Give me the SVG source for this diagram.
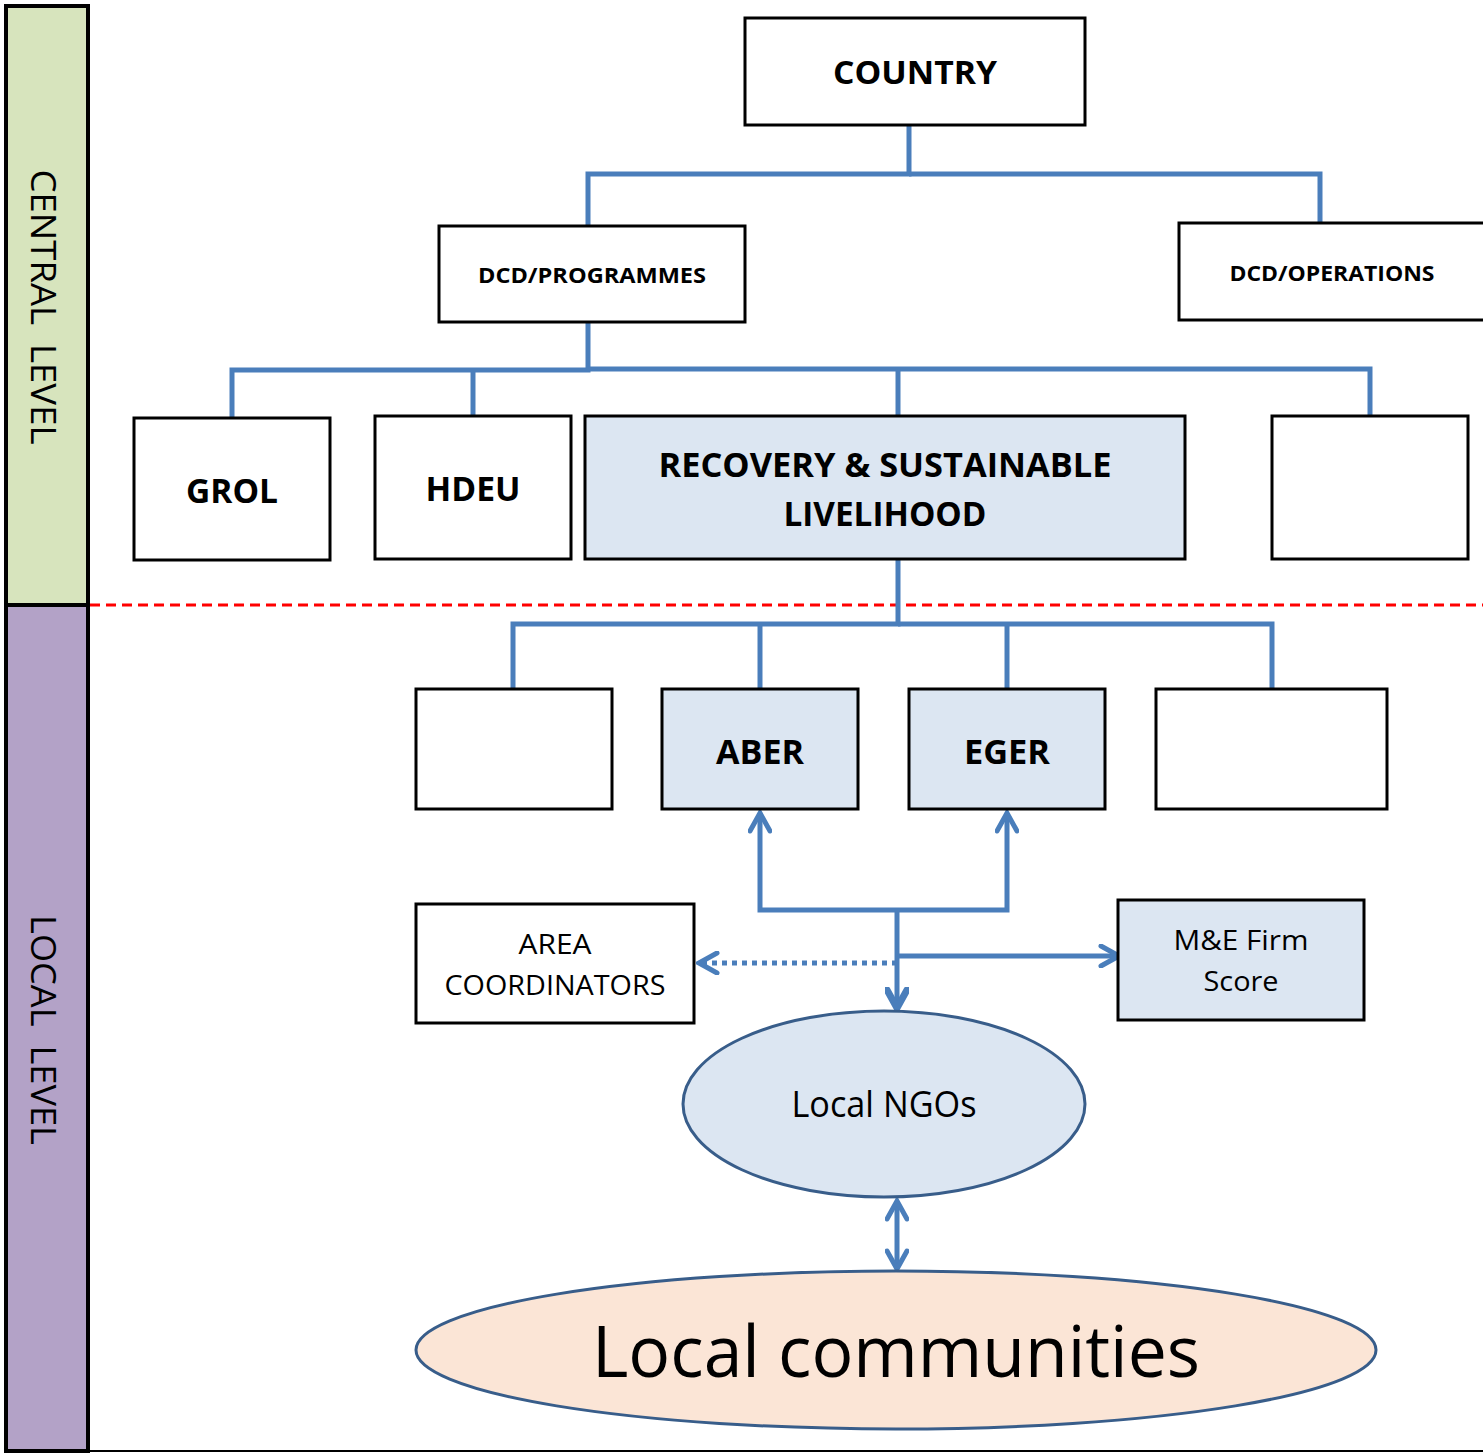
<svg xmlns="http://www.w3.org/2000/svg" width="1483" height="1455" viewBox="0 0 1483 1455">
<style>
.box{fill:#ffffff;stroke:#000000;stroke-width:3}
.fill{fill:#dce6f2;stroke:#000000;stroke-width:3}
.conn{fill:none;stroke:#4a7ebb;stroke-width:5;stroke-linejoin:miter}
.t{font-family:"Open Sans","Noto Sans","Liberation Sans",sans-serif;fill:#000000;text-anchor:middle}
.b{font-weight:bold}
.side{font-family:"Open Sans","Noto Sans","Liberation Sans",sans-serif;font-size:34px;fill:#000000;text-anchor:middle;white-space:pre}
</style>
<defs>
<marker id="arr" viewBox="0 0 24 24" refX="21" refY="12" markerWidth="24" markerHeight="24" markerUnits="userSpaceOnUse" orient="auto-start-reverse">
<path d="M3,2 L21,12 L3,22" fill="none" stroke="#4a7ebb" stroke-width="5" stroke-linecap="round" stroke-linejoin="miter"/>
</marker>
<marker id="arrB" viewBox="0 0 24 24" refX="21" refY="12" markerWidth="24" markerHeight="24" markerUnits="userSpaceOnUse" orient="auto-start-reverse">
<path d="M3,2 L21,12 L3,22" fill="none" stroke="#4a7ebb" stroke-width="7" stroke-linecap="round" stroke-linejoin="miter"/>
</marker>
</defs>
<rect width="1483" height="1455" fill="#ffffff"/>

<g id="levels">
<rect x="6" y="6" width="82" height="599" fill="#d7e4bd" stroke="#000000" stroke-width="4"/>
<rect x="6" y="605" width="82" height="846" fill="#b3a2c7" stroke="#000000" stroke-width="4"/>
<line x1="88" y1="1451" x2="1483" y2="1451" stroke="#000000" stroke-width="2"/>
<text class="side" xml:space="preserve" transform="translate(31,307) rotate(90)" textLength="275" lengthAdjust="spacingAndGlyphs">CENTRAL  LEVEL</text>
<text class="side" xml:space="preserve" transform="translate(31,1030) rotate(90)" textLength="230" lengthAdjust="spacingAndGlyphs">LOCAL  LEVEL</text>
<line x1="90" y1="605" x2="1483" y2="605" stroke="#ff0000" stroke-width="3" stroke-dasharray="10,6"/>
</g>

<g id="connectors">
<polyline class="conn" points="909,125 909,174 588,174 588,226"/>
<polyline class="conn" points="909,174 1320,174 1320,223"/>
<polyline class="conn" points="588,322 588,370 232,370 232,418"/>
<polyline class="conn" points="473,370 473,416"/>
<polyline class="conn" points="588,369 1370,369 1370,416"/>
<polyline class="conn" points="898,369 898,416"/>
<polyline class="conn" points="898,559 898,624 513,624 513,689"/>
<polyline class="conn" points="760,624 760,689"/>
<polyline class="conn" points="898,624 1272,624 1272,689"/>
<polyline class="conn" points="1007,624 1007,689"/>
<polyline class="conn" points="760,813 760,910 1007,910 1007,813" marker-start="url(#arr)" marker-end="url(#arr)"/>
<line class="conn" x1="897" y1="910" x2="897" y2="1008" stroke-width="6" marker-end="url(#arrB)"/>
<line class="conn" x1="897" y1="963" x2="699" y2="963" stroke-dasharray="5,5" marker-end="url(#arr)"/>
<line class="conn" x1="897" y1="956" x2="1119" y2="956" marker-end="url(#arr)"/>
<line class="conn" x1="897" y1="1201" x2="897" y2="1269" marker-start="url(#arr)" marker-end="url(#arr)"/>
</g>

<g id="country">
<rect class="box" x="745" y="18" width="340" height="107"/>
<text class="t b" x="915" y="84" font-size="32" textLength="164" lengthAdjust="spacingAndGlyphs">COUNTRY</text>
</g>
<g id="dcd-programmes">
<rect class="box" x="439" y="226" width="306" height="96"/>
<text class="t b" x="592" y="283" font-size="22" textLength="228" lengthAdjust="spacingAndGlyphs">DCD/PROGRAMMES</text>
</g>
<g id="dcd-operations">
<rect class="box" x="1179" y="223" width="320" height="97"/>
<text class="t b" x="1332" y="281" font-size="22" textLength="205" lengthAdjust="spacingAndGlyphs">DCD/OPERATIONS</text>
</g>
<g id="grol">
<rect class="box" x="134" y="418" width="196" height="142"/>
<text class="t b" x="232" y="503" font-size="34" textLength="92" lengthAdjust="spacingAndGlyphs">GROL</text>
</g>
<g id="hdeu">
<rect class="box" x="375" y="416" width="196" height="143"/>
<text class="t b" x="473" y="501" font-size="34" textLength="95" lengthAdjust="spacingAndGlyphs">HDEU</text>
</g>
<g id="rsl">
<rect class="fill" x="585" y="416" width="600" height="143"/>
<text class="t b" x="885" y="477" font-size="34" textLength="453" lengthAdjust="spacingAndGlyphs">RECOVERY &amp; SUSTAINABLE</text>
<text class="t b" x="885" y="526" font-size="34" textLength="203" lengthAdjust="spacingAndGlyphs">LIVELIHOOD</text>
</g>
<g id="blank-central">
<rect class="box" x="1272" y="416" width="196" height="143"/>
</g>
<g id="blank-local-1">
<rect class="box" x="416" y="689" width="196" height="120"/>
</g>
<g id="aber">
<rect class="fill" x="662" y="689" width="196" height="120"/>
<text class="t b" x="760" y="764" font-size="34" textLength="88" lengthAdjust="spacingAndGlyphs">ABER</text>
</g>
<g id="eger">
<rect class="fill" x="909" y="689" width="196" height="120"/>
<text class="t b" x="1007" y="764" font-size="34" textLength="86" lengthAdjust="spacingAndGlyphs">EGER</text>
</g>
<g id="blank-local-2">
<rect class="box" x="1156" y="689" width="231" height="120"/>
</g>
<g id="area-coordinators">
<rect class="box" x="416" y="904" width="278" height="119"/>
<text class="t" x="555" y="954" font-size="28" textLength="73" lengthAdjust="spacingAndGlyphs">AREA</text>
<text class="t" x="555" y="995" font-size="28" textLength="221" lengthAdjust="spacingAndGlyphs">COORDINATORS</text>
</g>
<g id="me-firm">
<rect class="fill" x="1118" y="900" width="246" height="120"/>
<text class="t" x="1241" y="950" font-size="28" textLength="135" lengthAdjust="spacingAndGlyphs">M&amp;E Firm</text>
<text class="t" x="1241" y="991" font-size="28" textLength="75" lengthAdjust="spacingAndGlyphs">Score</text>
</g>
<g id="local-ngos">
<ellipse cx="884" cy="1104" rx="201" ry="93" fill="#dce6f2" stroke="#385d8a" stroke-width="3"/>
<text class="t" x="884" y="1117" font-size="36" textLength="185" lengthAdjust="spacingAndGlyphs">Local NGOs</text>
</g>
<g id="local-communities">
<ellipse cx="896" cy="1350" rx="480" ry="79" fill="#fbe5d6" stroke="#385d8a" stroke-width="3"/>
<text class="t" x="896" y="1377" font-size="72" textLength="608" lengthAdjust="spacingAndGlyphs">Local communities</text>
</g>
</svg>
